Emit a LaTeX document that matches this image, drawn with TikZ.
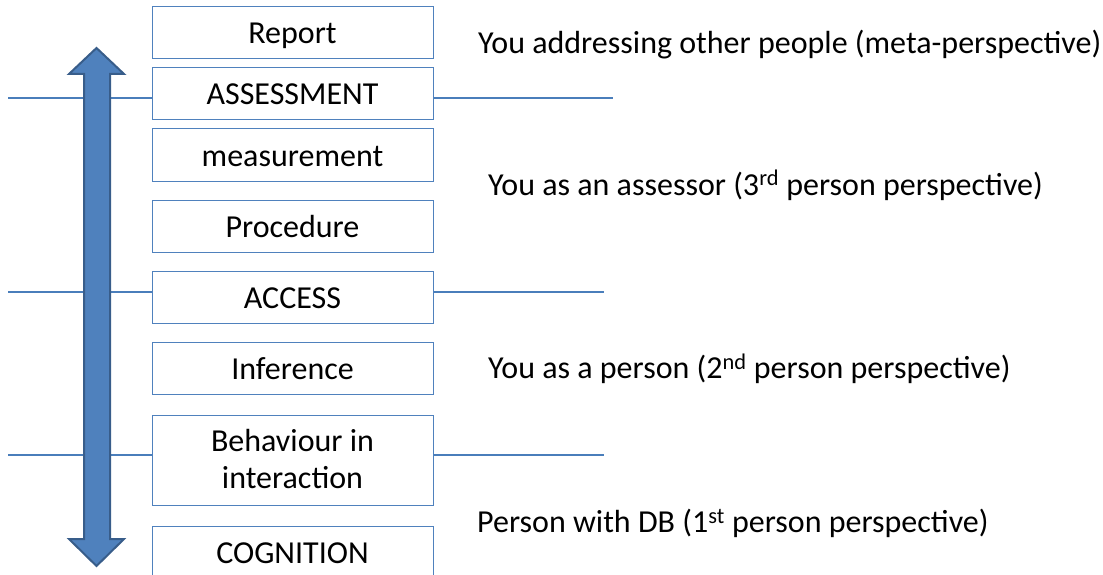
\documentclass[tikz,border=0pt]{standalone}
\usepackage{fontspec}
\setmainfont{Carlito}
\usetikzlibrary{positioning}

\definecolor{boxblue}{HTML}{4F81BD}
\definecolor{arrowedge}{HTML}{385D8A}
\definecolor{lineblue}{HTML}{4A7EBB}

\begin{document}
\begin{tikzpicture}[x=1pt,y=-1pt,
  every node/.style={font=\fontsize{32}{36.6}\selectfont},
  level/.style={draw=boxblue, line width=1pt, minimum width=281pt, minimum height=52pt,
                inner sep=0pt, text height=24pt, text depth=2pt},
  split/.style={draw=lineblue, line width=1.3pt},
  view/.style={anchor=base west, inner sep=0pt}]

\useasboundingbox (0,0) rectangle (1103,575);
\clip (0,0) rectangle (1103,575);

% levels
\node[level] (report)  at (292.5,33)  {Report};
\node[level] (assess)  at (292.5,94)  {ASSESSMENT};
\node[level] (measure) at (292.5,155) {measurement};
\node[level] (proc)    at (292.5,226) {Procedure};
\node[level] (access)  at (292.5,297) {ACCESS};
\node[level] (infer)   at (292.5,368.5) {Inference};
\node[level, minimum height=90pt, align=center, text height=60.6pt, text depth=4pt]
               (behave)  at (292.5,460) {Behaviour in\\interaction};
\node[level] (cogn)    at (292.5,552) {COGNITION};

% dividing lines
\foreach \y/\b/\r in {98/assess/613, 292/access/604, 455/behave/604}
   {
	\coordinate (lft) at (8,\y);
	\coordinate (rgt) at (\r,\y);
	\draw[split] (lft) -- (lft -| \b.west);
	\draw[split] (rgt -| \b.east) -- (rgt);
   };

% double arrow
\draw[fill=boxblue, draw=arrowedge, line width=2pt, line join=miter]
  (96.5,48) -- (124,74) -- (110,74) -- (110,539) -- (124,539) -- (96.5,566)
  -- (69,539) -- (84,539) -- (84,74) -- (69,74) -- cycle;

% perspectives
\node[view] (meta)   at (478,53.3)  {You addressing other people (meta-perspective)};
\node[view] (third)  at (488,195)   {You as an assessor (3\textsuperscript{rd} person perspective)};
\node[view] (second) at (488,378.3) {You as a person (2\textsuperscript{nd} person perspective)};
\node[view] (first)  at (477,532.7) {Person with DB (1\textsuperscript{st} person perspective)};
\end{tikzpicture}
\end{document}
